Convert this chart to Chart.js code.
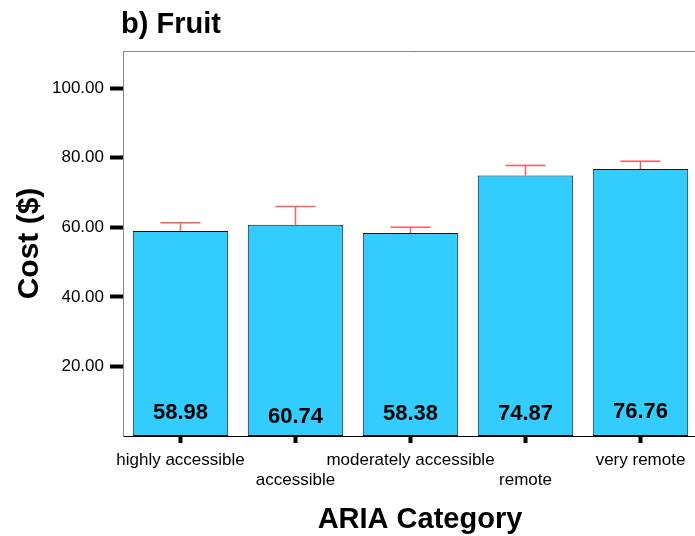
<!DOCTYPE html>
<html>
<head>
<meta charset="utf-8">
<script src="https://cdn.jsdelivr.net/npm/chart.js@4.4.0/dist/chart.umd.min.js"></script>
<style>
  html, body { margin: 0; padding: 0; background: #fff; }
  #wrap { width: 695px; height: 536px; overflow: hidden; }
</style>
</head>
<body>
<div id="wrap"><canvas id="chart" width="701" height="536"></canvas></div>
<script>
// data
const categories = ['highly accessible', 'accessible', 'moderately accessible', 'remote', 'very remote'];
const labelRow = [0, 1, 0, 1, 0];          // staggered tick labels
const meanCost = [58.98, 60.74, 58.38, 74.87, 76.76];
const errUpper = [61.3, 66.0, 60.0, 77.8, 79.0];
const yTicks = [20, 40, 60, 80, 100];

const FONT = 'Arial, "Liberation Sans", sans-serif';

// where SPSS put the value labels, px above the axis
const valueLift = [23, 19, 22, 22, 24];

const extras = {
    id: 'extras',
    beforeDatasetsDraw: (chart) => {
        const ctx = chart.ctx;
        const a = chart.chartArea;
        ctx.save();
        ctx.strokeStyle = '#888';
        ctx.lineWidth = 1;
        ctx.beginPath();
        ctx.moveTo(a.left, a.top + 0.5);
        ctx.lineTo(a.right, a.top + 0.5);
        ctx.stroke();
        ctx.restore();
    },
    afterDatasetsDraw: (chart) => {
        const ctx = chart.ctx;
        const a = chart.chartArea;
        const y = chart.scales.y;
        const meta = chart.getDatasetMeta(0);
        ctx.save();
        // error bars, upper half only
        ctx.strokeStyle = '#ff5a5a';
        ctx.lineWidth = 1.5;
        meta.data.forEach((bar, i) => {
            const top = y.getPixelForValue(errUpper[i]);
            ctx.beginPath();
            ctx.moveTo(bar.x, bar.y);
            ctx.lineTo(bar.x, top);
            ctx.moveTo(bar.x - 20, top);
            ctx.lineTo(bar.x + 20, top);
            ctx.stroke();
        });
        // value labels
        ctx.fillStyle = '#000';
        ctx.font = 'bold 22px ' + FONT;
        ctx.textAlign = 'center';
        ctx.textBaseline = 'middle';
        meta.data.forEach((bar, i) => {
            ctx.fillText(meanCost[i].toFixed(2), bar.x, a.bottom - valueLift[i]);
        });
        ctx.restore();
    },
    afterDraw: (chart) => {
        const ctx = chart.ctx;
        ctx.save();
        ctx.fillStyle = '#000';
        ctx.font = 'bold 29px ' + FONT;
        ctx.textBaseline = 'alphabetic';
        ctx.textAlign = 'left';
        ctx.fillText('b) Fruit', 121, 33);
        ctx.textAlign = 'center';
        ctx.fillText('ARIA Category', 420, 528);
        ctx.restore();
    }
};

const labels = categories.map((c, i) => labelRow[i] ? ['', c] : c);

new Chart(document.getElementById('chart').getContext('2d'), {
    type: 'bar',
    data: {
        labels: labels,
        datasets: [{
            data: meanCost,
            backgroundColor: '#33ccff',
            borderColor: '#111',
            borderWidth: 1,
            borderSkipped: false,
            categoryPercentage: 1,
            barPercentage: 0.83
        }]
    },
    options: {
        responsive: false,
        animation: false,
        devicePixelRatio: 1,
        layout: { padding: { top: 51, right: 3, left: 0, bottom: 0 } },
        plugins: {
            legend: { display: false },
            tooltip: { enabled: false }
        },
        scales: {
            x: {
                afterFit: (s) => { s.height = 100; },
                grid: {
                    offset: false,
                    drawOnChartArea: false,
                    tickLength: 7,
                    tickWidth: 4,
                    tickColor: '#000'
                },
                border: { color: '#000', width: 1 },
                ticks: {
                    autoSkip: false,
                    maxRotation: 0,
                    minRotation: 0,
                    padding: 7,
                    color: '#000',
                    font: { family: FONT, size: 17, lineHeight: 1.18 }
                }
            },
            y: {
                min: 0,
                max: 110.7,
                afterFit: (s) => { s.width = 123; },
                afterBuildTicks: (s) => { s.ticks = yTicks.map(v => ({ value: v })); },
                grid: {
                    drawOnChartArea: false,
                    tickLength: 13,
                    tickWidth: 4,
                    tickColor: '#000'
                },
                border: { color: '#888', width: 1 },
                ticks: {
                    padding: 6,
                    color: '#000',
                    font: { family: FONT, size: 17 },
                    callback: (v) => Number(v).toFixed(2)
                },
                title: {
                    display: true,
                    text: 'Cost ($)',
                    color: '#000',
                    font: { family: FONT, size: 30, weight: 'bold' },
                    padding: { top: 12, bottom: 0 }
                }
            }
        }
    },
    plugins: [extras]
});
</script>
</body>
</html>
